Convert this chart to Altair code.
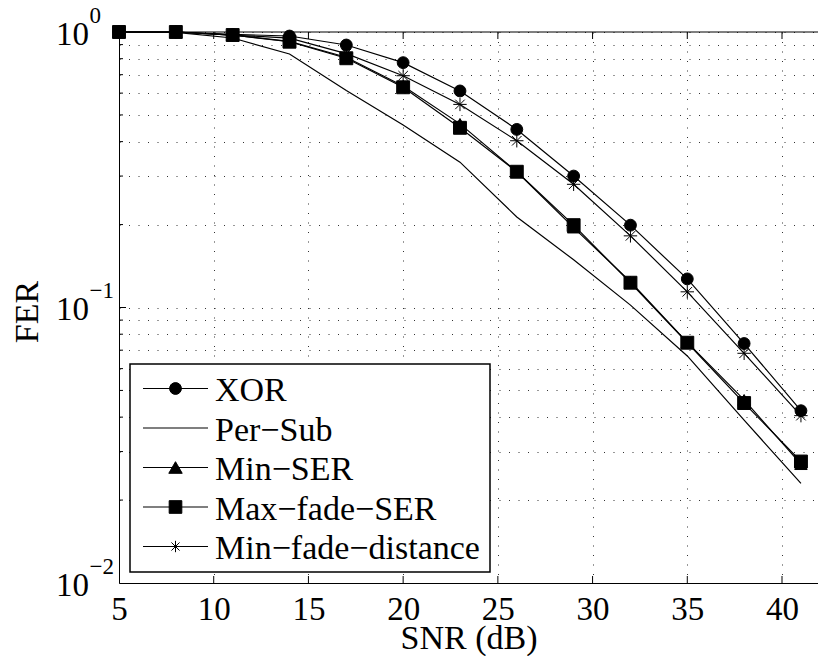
import altair as alt
import pandas as pd

# SNR sweep (dB) shared by every curve
snr = [5, 8, 11, 14, 17, 20, 23, 26, 29, 32, 35, 38, 41]

# Frame error rate for each scheme
fer_xor = [1.0, 1.0, 0.98, 0.967, 0.897, 0.774, 0.611, 0.443, 0.300, 0.199, 0.127, 0.074, 0.0422]
fer_per_sub = [1.0, 0.997, 0.951, 0.832, 0.613, 0.460, 0.337, 0.213, 0.149, 0.102, 0.0667, 0.039, 0.023]
fer_min_ser = [1.0, 1.0, 0.975, 0.925, 0.81, 0.637, 0.464, 0.311, 0.195, 0.124, 0.0747, 0.0462, 0.027]
fer_max_fade_ser = [1.0, 1.0, 0.975, 0.922, 0.803, 0.630, 0.449, 0.311, 0.199, 0.123, 0.0745, 0.045, 0.0276]
fer_min_fade_dist = [1.0, 1.0, 0.975, 0.95, 0.835, 0.694, 0.546, 0.403, 0.280, 0.182, 0.114, 0.0682, 0.0405]

series_names = ["XOR", "Per\u2212Sub", "Min\u2212SER", "Max\u2212fade\u2212SER", "Min\u2212fade\u2212distance"]
series_values = [fer_xor, fer_per_sub, fer_min_ser, fer_max_fade_ser, fer_min_fade_dist]

x_ticks = [5, 10, 15, 20, 25, 30, 35, 40]
decades = [1.0, 0.1, 0.01]
decade_exponents = ["0", "\u22121", "\u22122"]

# ---------------------------------------------------------------- styling
FONT = "Liberation Serif"
W, H = 699, 551
ASTERISK = "M0,-1L0,1M-1,0L1,0M-0.71,-0.71L0.71,0.71M-0.71,0.71L0.71,-0.71"
marker_series = ["XOR", "Min\u2212SER", "Max\u2212fade\u2212SER", "Min\u2212fade\u2212distance"]
marker_shapes = ["circle", "triangle-up", "square", ASTERISK]
marker_sizes = [140, 180, 160, 130]

rows = []
for name, vals in zip(series_names, series_values):
    for s, v in zip(snr, vals):
        rows.append({"series": name, "snr": s, "fer": v})
df = pd.DataFrame(rows)

xscale = alt.Scale(domain=[5, 41.9], nice=False, zero=False)
yscale = alt.Scale(type="log", domain=[0.01, 1], nice=False)

y_grid_values = [k * 10.0 ** e for e in (-2, -1) for k in range(1, 10)] + [1.0]

# one axis definition per channel, handed to every layer that uses the channel
xaxis = alt.Axis(values=x_ticks, title="SNR (dB)", titleX=W / 2, titleY=65,
                 titleAlign="center", titleBaseline="alphabetic")
yaxis = alt.Axis(values=y_grid_values, title="FER", labels=False, titleAngle=270,
                 titleX=-82, titleY=279.5, titleAlign="center", titleBaseline="alphabetic")

X = alt.X("snr:Q", scale=xscale, axis=xaxis)
Y = alt.Y("fer:Q", scale=yscale, axis=yaxis)

# ---------------------------------------------------------------- curves
lines = alt.Chart(df).mark_line(color="black", strokeWidth=1.2).encode(
    x=X, y=Y, detail="series:N", order="snr:Q")

points = alt.Chart(df[df["series"].isin(marker_series)]).mark_point(
    filled=True, fill="black", stroke="black", strokeWidth=1, opacity=1
).encode(
    x=X, y=Y,
    shape=alt.Shape("series:N", scale=alt.Scale(domain=marker_series, range=marker_shapes), legend=None),
    size=alt.Size("series:N", scale=alt.Scale(domain=marker_series, range=marker_sizes), legend=None),
)

# ---------------------------------------------------------------- frame and inward ticks
one = pd.DataFrame({"k": [0]})
top_border = alt.Chart(one).mark_rule(color="black", strokeWidth=1).encode(
    x=alt.value(0), x2=alt.value(W), y=alt.value(0))

xt = pd.DataFrame({"snr": x_ticks[1:]})
x_ticks_bottom = alt.Chart(xt).mark_rule(color="black", strokeWidth=1).encode(
    x=X, y=alt.value(H), y2=alt.value(H - 7))
x_ticks_top = alt.Chart(xt).mark_rule(color="black", strokeWidth=1).encode(
    x=X, y=alt.value(0), y2=alt.value(7))

major_y = pd.DataFrame({"fer": [0.1]})
minor_y = pd.DataFrame({"fer": [k * 10.0 ** e for e in (-2, -1) for k in range(2, 10)]})
y_ticks_major = alt.Chart(major_y).mark_rule(color="black", strokeWidth=1).encode(
    y=Y, x=alt.value(0), x2=alt.value(7))
y_ticks_minor = alt.Chart(minor_y).mark_rule(color="black", strokeWidth=1).encode(
    y=Y, x=alt.value(0), x2=alt.value(4))

# power-of-ten tick labels: base plus superscript exponent
dec_df = pd.DataFrame({"fer": decades, "base": ["10"] * len(decades), "exp": decade_exponents})
y_base = alt.Chart(dec_df).mark_text(
    align="right", baseline="alphabetic", dy=12.5, font=FONT, fontSize=33, color="black"
).encode(y=Y, x=alt.value(-30), text="base:N")
y_exp = alt.Chart(dec_df).mark_text(
    align="left", baseline="alphabetic", dy=-9.5, font=FONT, fontSize=23, color="black"
).encode(y=Y, x=alt.value(-29.5), text="exp:N")

# ---------------------------------------------------------------- legend box
LEG_X0, LEG_X1, LEG_Y0, LEG_Y1 = 11, 371, 332, 540
legend_layers = [
    alt.Chart(one).mark_rect(fill="white", stroke="black", strokeWidth=1.5).encode(
        x=alt.value(LEG_X0), x2=alt.value(LEG_X1), y=alt.value(LEG_Y0), y2=alt.value(LEG_Y1))
]
shape_of = dict(zip(marker_series, marker_shapes))
size_of = dict(zip(marker_series, marker_sizes))
for i, name in enumerate(series_names):
    yrow = 356.5 + i * 39.5
    row_df = pd.DataFrame({"series": [name]})
    legend_layers.append(
        alt.Chart(row_df).mark_rule(color="black", strokeWidth=1.2).encode(
            x=alt.value(24), x2=alt.value(89), y=alt.value(yrow)))
    if name in shape_of:
        legend_layers.append(
            alt.Chart(row_df).mark_point(
                filled=True, fill="black", stroke="black", strokeWidth=1, opacity=1
            ).encode(x=alt.value(56.5), y=alt.value(yrow),
                     shape=alt.value(shape_of[name]), size=alt.value(size_of[name])))
    legend_layers.append(
        alt.Chart(row_df).mark_text(
            align="left", baseline="alphabetic", dy=12.5, font=FONT, fontSize=34, color="black"
        ).encode(x=alt.value(96), y=alt.value(yrow), text="series:N"))

chart = alt.layer(
    lines, points, top_border, x_ticks_bottom, x_ticks_top, y_ticks_major, y_ticks_minor,
    y_base, y_exp, *legend_layers
).properties(
    width=W, height=H,
    autosize=alt.AutoSizeParams(type="none"),
    padding={"left": 119, "top": 32, "right": 0, "bottom": 73},
    background="white",
).configure_view(
    stroke=None
).configure_axis(
    grid=True, gridDash=[1, 8.5], gridColor="#333", gridWidth=1, gridOpacity=1,
    ticks=False, tickSize=0, domain=True, domainColor="black", domainWidth=1,
    labelFont=FONT, labelColor="black", titleFont=FONT, titleFontSize=34,
    titleFontWeight="normal", titleColor="black",
).configure_axisX(
    labelFontSize=33, labelPadding=36, labelBaseline="alphabetic", labelAngle=0,
    labelFlush=False, labelOverlap=False,
)

chart.save("out.html", embed_options={"renderer": "svg", "actions": False})
